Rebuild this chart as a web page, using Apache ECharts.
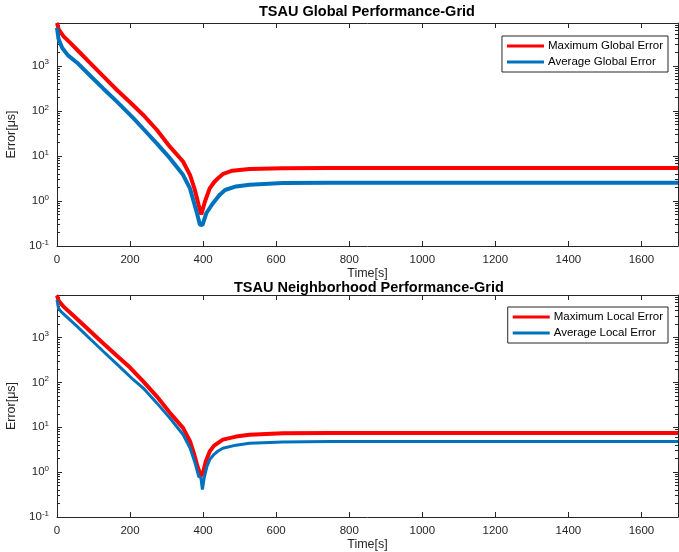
<!DOCTYPE html>
<html>
<head>
<meta charset="utf-8">
<style>
  html, body { margin: 0; padding: 0; background: #fff; }
  #chart { width: 679px; height: 552px; }
</style>
<script src="https://cdn.jsdelivr.net/npm/echarts@6/dist/echarts.min.js"></script>
</head>
<body>
<div id="chart"></div>
<script>
// values (time in s, error in us)
var xTicks = [0, 200, 400, 600, 800, 1000, 1200, 1400, 1600];

var tGlobalMax = [0, 5, 18, 35, 55, 91, 127, 164, 200, 236, 273, 309, 345, 364, 377, 388, 395, 405, 418, 430, 441, 455, 480, 527, 618, 750, 1700];
var globalMax  = [8900, 6300, 4500, 3300, 2270, 1140, 580, 290, 155, 81, 38, 16, 7.5, 3.8, 1.8, 0.8, 0.5, 0.97, 1.9, 2.6, 3.2, 4.0, 4.7, 5.1, 5.3, 5.4, 5.4];

var tGlobalAvg = [0, 4, 14, 30, 55, 91, 127, 164, 209, 236, 273, 309, 345, 364, 382, 391, 398, 409, 427, 445, 460, 490, 527, 618, 750, 1700];
var globalAvg  = [7000, 4000, 2500, 1700, 1170, 600, 310, 160, 69, 40, 19, 8.9, 3.8, 1.9, 0.58, 0.3, 0.29, 0.54, 0.89, 1.36, 1.75, 2.1, 2.3, 2.5, 2.55, 2.55];

var tLocalMax = [0, 5, 18, 55, 91, 127, 164, 200, 236, 273, 309, 345, 364, 375, 385, 394, 400, 407, 418, 430, 441, 454, 490, 527, 618, 750, 1700];
var localMax  = [8700, 6500, 4900, 2600, 1390, 740, 395, 215, 106, 49, 21, 9.7, 4.9, 2.6, 1.3, 0.82, 1.0, 1.7, 2.9, 3.9, 4.5, 5.3, 6.2, 6.8, 7.4, 7.5, 7.5];

var tLocalAvg = [0, 4, 11, 55, 91, 127, 164, 209, 236, 273, 309, 345, 364, 378, 388, 394, 398, 403, 410, 418, 430, 441, 454, 490, 527, 618, 750, 1700];
var localAvg  = [7000, 4500, 3800, 1780, 930, 490, 257, 115, 75, 35, 16, 6.9, 3.5, 1.6, 0.8, 0.75, 0.41, 0.75, 1.3, 1.9, 2.5, 2.96, 3.4, 4.0, 4.4, 4.7, 4.8, 4.8];

var yMin = 0.1, yMax = 8900;
var RED = '#FF0000', BLUE = '#0072BD';
var AXIS = '#262626';
var FONT = 'Liberation Sans';

function pairs(t, v) {
    var out = [];
    for (var i = 0; i < t.length; i++) out.push([t[i], v[i]]);
    return out;
}

// 10^n labels, empty for the non-decade end tick
function logLabel(v) {
    var e = Math.log10(v);
    var r = Math.round(e);
    if (Math.abs(e - r) > 1e-6) return '';
    return '{b|10}{s|' + r + '}';
}

function xLabel(v) {
    return xTicks.indexOf(v) >= 0 ? String(v) : '';
}

var axisLine = { show: true, onZero: false, lineStyle: { color: AXIS, width: 1 } };
var majorTick = { inside: true, length: 5, lineStyle: { color: AXIS } };
var minorTicks = { show: true, splitNumber: 9, length: 3, lineStyle: { color: AXIS } };

function bottomX(gi) {
    return {
        type: 'value', gridIndex: gi, min: 0, max: 1700, interval: 200,
        position: 'bottom',
        name: 'Time[s]', nameLocation: 'middle', nameGap: 21,
        nameTextStyle: { color: AXIS, fontSize: 12.5, fontFamily: FONT },
        axisLine: axisLine,
        axisTick: majorTick,
        axisLabel: { formatter: xLabel, color: AXIS, fontSize: 11.5, margin: 8, fontFamily: FONT },
        splitLine: { show: false }
    };
}
function topX(gi) {
    return {
        type: 'value', gridIndex: gi, min: 0, max: 1700, interval: 200,
        position: 'top',
        axisLine: axisLine,
        axisTick: majorTick,
        axisLabel: { show: false },
        splitLine: { show: false }
    };
}
function leftY(gi) {
    return {
        type: 'log', logBase: 10, gridIndex: gi, min: yMin, max: yMax,
        position: 'left',
        name: 'Error[μs]', nameLocation: 'middle', nameGap: 29,
        nameTextStyle: { color: AXIS, fontSize: 12.5, fontFamily: FONT },
        axisLine: axisLine,
        axisTick: majorTick,
        minorTick: minorTicks,
        axisLabel: {
            formatter: logLabel, margin: 8,
            rich: {
                b: { fontSize: 11.5, color: AXIS, fontFamily: FONT },
                s: { fontSize: 8, color: AXIS, fontFamily: FONT, padding: [0, 0, 7, 0] }
            }
        },
        splitLine: { show: false }
    };
}
function rightY(gi) {
    return {
        type: 'log', logBase: 10, gridIndex: gi, min: yMin, max: yMax,
        position: 'right',
        axisLine: axisLine,
        axisTick: majorTick,
        minorTick: minorTicks,
        axisLabel: { show: false },
        splitLine: { show: false }
    };
}

function lineSeries(name, t, v, color, xi, yi, width) {
    return {
        name: name, type: 'line', xAxisIndex: xi, yAxisIndex: yi,
        data: pairs(t, v), showSymbol: false, smooth: false,
        lineStyle: { color: color, width: width }, itemStyle: { color: color },
        clip: true
    };
}

var legendCommon = {
    orient: 'vertical', align: 'left', icon: 'rect',
    itemWidth: 37, itemHeight: 3, itemGap: 4,
    padding: [4, 5, 4, 5],
    backgroundColor: '#fff', borderColor: AXIS, borderWidth: 1,
    textStyle: { color: '#000', fontSize: 11.5, fontFamily: FONT, padding: [0, 0, 0, -1] }
};

var titleStyle = { fontSize: 14.5, fontWeight: 'bold', color: '#000', fontFamily: FONT };

var option = {
    animation: false,
    backgroundColor: '#fff',
    title: [
        { text: 'TSAU Global Performance-Grid', left: 259, top: 4, padding: 0, textStyle: titleStyle },
        { text: 'TSAU Neighborhood Performance-Grid', left: 234, top: 280, padding: 0, textStyle: titleStyle }
    ],
    legend: [
        Object.assign({}, legendCommon, { data: ['Maximum Global Error', 'Average Global Error'], right: 11, top: 36 }),
        Object.assign({}, legendCommon, { data: ['Maximum Local Error', 'Average Local Error'], right: 11, top: 307 })
    ],
    grid: [
        { left: 57, right: 1, top: 23, height: 223, outerBoundsMode: 'none' },
        { left: 57, right: 1, top: 295, height: 222, outerBoundsMode: 'none' }
    ],
    xAxis: [bottomX(0), topX(0), bottomX(1), topX(1)],
    yAxis: [leftY(0), rightY(0), leftY(1), rightY(1)],
    series: [
        lineSeries('Maximum Global Error', tGlobalMax, globalMax, RED, 0, 0, 4),
        lineSeries('Average Global Error', tGlobalAvg, globalAvg, BLUE, 0, 0, 4),
        lineSeries('Maximum Local Error', tLocalMax, localMax, RED, 2, 2, 4),
        lineSeries('Average Local Error', tLocalAvg, localAvg, BLUE, 2, 2, 3)
    ]
};

var myChart = echarts.init(document.getElementById('chart'));
myChart.setOption(option);
</script>
</body>
</html>
